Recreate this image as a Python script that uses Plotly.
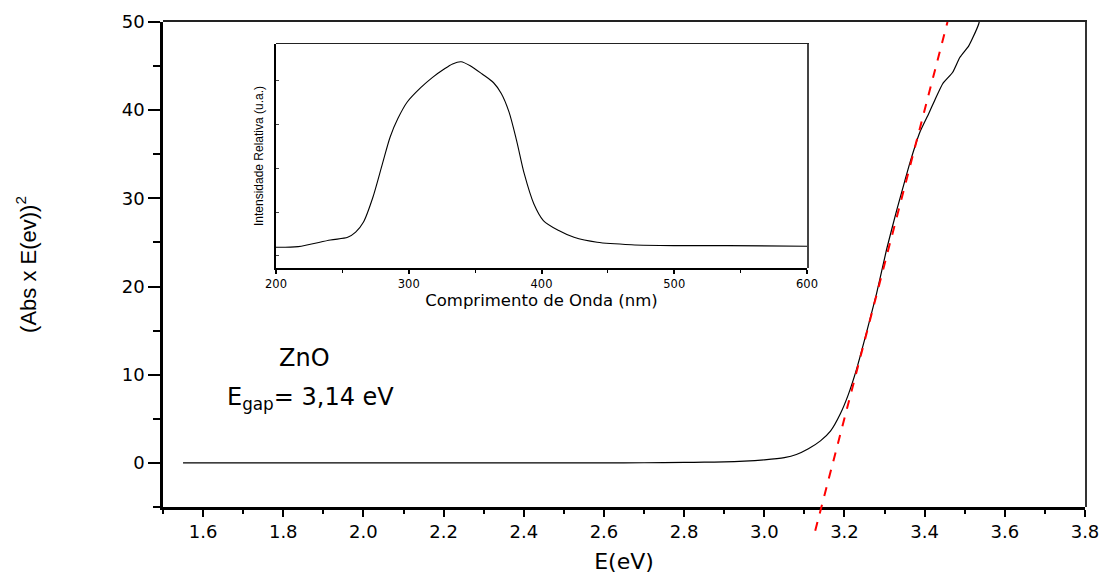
import plotly.graph_objects as go

# ---- main curve: (Abs x E)^2 vs E(eV) ----
energy_ev = [1.55, 1.8, 2.0, 2.2, 2.4, 2.6, 2.7, 2.8, 2.85, 2.9, 2.95, 3.0, 3.05, 3.08,
             3.11, 3.14, 3.165, 3.19, 3.21, 3.23, 3.255, 3.28, 3.305, 3.33, 3.35,
             3.363, 3.388, 3.41, 3.425, 3.445, 3.47, 3.488, 3.51, 3.52, 3.535, 3.54]
abs_e_sq = [0, 0, 0, 0, 0, 0, 0.02, 0.05, 0.08, 0.12, 0.2, 0.35, 0.6, 0.95,
            1.6, 2.5, 3.6, 5.6, 7.8, 10.6, 14.8, 19.2, 24.2, 28.6, 31.9,
            34.0, 37.5, 39.6, 41.1, 43.0, 44.3, 46.0, 47.3, 48.2, 49.8, 51.0]

# ---- linear fit (Tauc extrapolation) ----
fit_x = [3.127, 3.457]
fit_y = [-7.7, 50.0]

# ---- inset: relative intensity vs wavelength ----
wavelength_nm = [200, 216.7, 241, 254, 260, 265.8, 273, 280.2, 286, 291.8, 299, 309, 317.7,
                 326.4, 333, 339.4, 346.6, 355.3, 363.9, 369.7, 375.5, 381.2, 387, 394.2,
                 401.4, 413, 424.5, 441.9, 467.8, 499.6, 540, 600]
intensity = [0.0925, 0.0955, 0.125, 0.137, 0.16, 0.204, 0.316, 0.466, 0.585, 0.667, 0.742,
             0.805, 0.850, 0.887, 0.911, 0.921, 0.902, 0.866, 0.827, 0.779, 0.697, 0.570,
             0.421, 0.287, 0.212, 0.167, 0.137, 0.115, 0.104, 0.100, 0.100, 0.097]

x_ticks = [1.6, 1.8, 2.0, 2.2, 2.4, 2.6, 2.8, 3.0, 3.2, 3.4, 3.6, 3.8]
x_tick_labels = ["1.6", "1.8", "2.0", "2.2", "2.4", "2.6", "2.8", "3.0", "3.2", "3.4", "3.6", "3.8"]
y_ticks = [0, 10, 20, 30, 40, 50]
inset_x_ticks = [200, 300, 400, 500, 600]

FONT = "DejaVu Sans, Liberation Sans, sans-serif"
ARIAL = "Liberation Sans, Arial, sans-serif"

W, H = 1104, 577
ml, mr, mt, mb = 163, 19, 22, 45
plot_h = H - mt - mb
paper_bottom_px = H - mb          # 532
axis_bottom_px = 507
main_y_domain0 = (paper_bottom_px - axis_bottom_px) / plot_h
px_per_unit = (axis_bottom_px - mt) / 55.0
ext_low = -5 - (paper_bottom_px - axis_bottom_px) / px_per_unit


def px_to_paper_x(px):
    return (px - ml) / (W - ml - mr)


def px_to_paper_y(py):
    return (paper_bottom_px - py) / plot_h


inset_x_dom = [px_to_paper_x(276), px_to_paper_x(807)]
inset_y_dom = [px_to_paper_y(268), px_to_paper_y(44)]

fig = go.Figure()

fig.add_trace(go.Scatter(x=energy_ev, y=abs_e_sq, mode="lines",
                         line=dict(color="black", width=1.2, shape="spline", smoothing=0.5),
                         xaxis="x", yaxis="y", showlegend=False, hoverinfo="skip"))

fig.add_trace(go.Scatter(x=fit_x, y=fit_y, mode="lines",
                         line=dict(color="#ff0000", width=2, dash="dash"),
                         xaxis="x3", yaxis="y3", showlegend=False, hoverinfo="skip"))

fig.add_trace(go.Scatter(x=wavelength_nm, y=intensity, mode="lines",
                         line=dict(color="black", width=1.1, shape="spline", smoothing=0.8),
                         xaxis="x2", yaxis="y2", showlegend=False, hoverinfo="skip"))

fig.add_trace(go.Scatter(x=[None], y=[None], xaxis="x4", yaxis="y4", showlegend=False, hoverinfo="skip"))
fig.add_trace(go.Scatter(x=[None], y=[None], xaxis="x5", yaxis="y5", showlegend=False, hoverinfo="skip"))

fig.update_layout(
    width=W, height=H,
    margin=dict(l=ml, r=mr, t=mt, b=mb, autoexpand=False),
    paper_bgcolor="white", plot_bgcolor="rgba(0,0,0,0)",
    font=dict(family=FONT, color="black"),
    xaxis=dict(domain=[0, 1], range=[1.5, 3.8], anchor="y", automargin=False,
               tickvals=x_ticks, ticktext=x_tick_labels,
               ticks="outside", ticklen=7, tickwidth=2, tickcolor="black",
               minor=dict(dtick=0.1, tick0=1.5, ticks="outside", ticklen=4, tickwidth=2, tickcolor="black"),
               showline=True, linecolor="black", linewidth=2.5,
               showgrid=False, zeroline=False,
               tickfont=dict(size=18, family=FONT),
               title=dict(text="E(eV)", font=dict(size=22, family=FONT), standoff=13)),
    yaxis=dict(domain=[main_y_domain0, 1], range=[-5, 50], anchor="x", automargin=False,
               tickvals=y_ticks,
               ticks="outside", ticklen=12, tickwidth=2, tickcolor="black",
               minor=dict(dtick=5, tick0=-5, ticks="outside", ticklen=7, tickwidth=2, tickcolor="black"),
               showline=True, linecolor="black", linewidth=2.5,
               showgrid=False, zeroline=False,
               tickfont=dict(size=18, family=FONT),
               title=dict(text="(Abs x E(ev))<sup>2</sup>", font=dict(size=22, family=ARIAL), standoff=80)),
    xaxis3=dict(domain=[0, 1], range=[1.5, 3.8], anchor="y3", visible=False),
    yaxis3=dict(domain=[0, 1], range=[ext_low, 50], anchor="x3", visible=False),
    xaxis2=dict(domain=inset_x_dom, range=[200, 600], anchor="y2", automargin=False,
                tickvals=inset_x_ticks,
                ticks="outside", ticklen=4, tickwidth=1.5, tickcolor="black",
                minor=dict(dtick=50, tick0=200, ticks="outside", ticklen=3, tickwidth=1.2, tickcolor="black"),
                showline=True, linecolor="black", linewidth=1.5,
                showgrid=False, zeroline=False,
                tickfont=dict(size=11.5, family=FONT),
                title=dict(text="Comprimento de Onda (nm)", font=dict(size=16.5, family=FONT), standoff=5)),
    yaxis2=dict(domain=inset_y_dom, range=[0, 1], anchor="x2", automargin=False,
                tick0=0.054, dtick=0.196, showticklabels=False,
                ticks="inside", ticklen=3, tickwidth=1, tickcolor="#444",
                showline=True, linecolor="black", linewidth=1.5,
                showgrid=False, zeroline=False,
                title=dict(text="Intensidade Relativa (u.a.)", font=dict(size=12, family=ARIAL), standoff=8)),
    xaxis4=dict(domain=[0, 1], range=[1.5, 3.8], anchor="y4", side="top", automargin=False,
                showline=True, linecolor="#222", linewidth=1.5, showticklabels=False,
                ticks="", showgrid=False, zeroline=False),
    yaxis4=dict(domain=[main_y_domain0, 1], range=[-5, 50], anchor="x4", side="right", automargin=False,
                showline=True, linecolor="#333", linewidth=1.5, showticklabels=False,
                ticks="", showgrid=False, zeroline=False),
    xaxis5=dict(domain=inset_x_dom, range=[200, 600], anchor="y5", side="top", automargin=False,
                showline=True, linecolor="#222", linewidth=1.2, showticklabels=False,
                ticks="", showgrid=False, zeroline=False),
    yaxis5=dict(domain=inset_y_dom, range=[0, 1], anchor="x5", side="right", automargin=False,
                showline=True, linecolor="#444", linewidth=1.5, showticklabels=False,
                ticks="", showgrid=False, zeroline=False),
)

fig.add_annotation(x=1.852, y=11.9, xref="x", yref="y", text="ZnO", showarrow=False,
                   font=dict(size=24, family=FONT), xanchor="center", yanchor="middle")
fig.add_annotation(x=1.655, y=7.3, xref="x", yref="y", text="E<sub>gap</sub>= 3,14 eV", showarrow=False,
                   font=dict(size=24, family=FONT), xanchor="left", yanchor="middle")

fig.write_html("out.html")
